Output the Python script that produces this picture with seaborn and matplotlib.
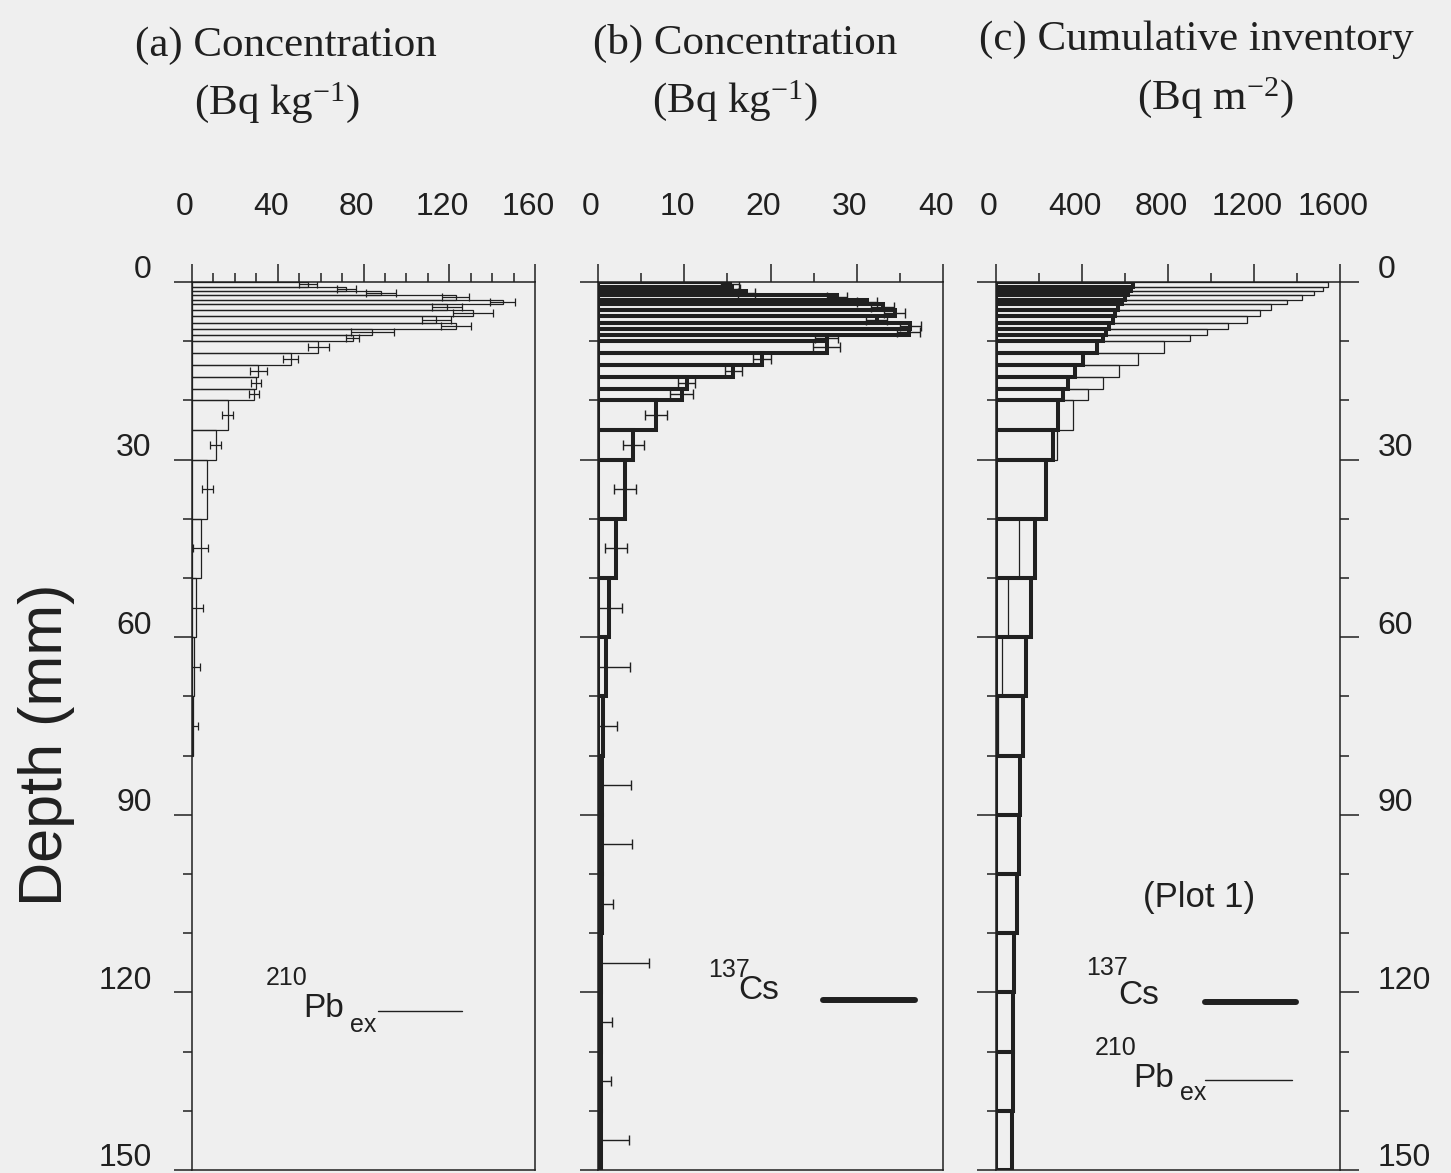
import numpy as np
import matplotlib
matplotlib.use('Agg')
import matplotlib.pyplot as plt
import seaborn as sns
from matplotlib.ticker import MultipleLocator
from matplotlib.lines import Line2D
from matplotlib.transforms import ScaledTranslation

# ---------------- data ----------------
depth_edges = [0, 0.8, 1.5, 2.2, 3.0, 3.8, 4.7, 5.8, 6.9, 7.9, 8.9, 10,
               12, 14, 16, 18, 20, 25, 30, 40, 50, 60, 70, 80, 90, 100,
               110, 120, 130, 140, 150]

# (a) 210Pb_ex concentration (Bq/kg), layers down to 80 mm
pb_conc = [54, 72, 88, 123, 145, 119, 131, 114, 123, 84, 75,
           59, 46, 31, 30, 29, 16.6, 11, 7.2, 4.0, 1.8, 0.8, 0.6]
pb_err = [4.3, 4.3, 7, 6.2, 5.8, 7, 9.3, 6.6, 7, 10, 3.1,
          4.7, 3.5, 3.9, 2.3, 2.3, 2.7, 2.7, 2.6, 3.4, 3.5, 2.8, 2.2]

# (b) 137Cs concentration (Bq/kg)
cs_conc = [15.3, 15.5, 17.2, 27.7, 31.2, 33.0, 34.4, 32.3, 36.2, 36.0, 26.5,
           26.5, 19.0, 15.7, 10.3, 9.7, 6.7, 4.1, 3.1, 2.1, 1.3, 0.9, 0.6,
           0.5, 0.5, 0.5, 0.4, 0.4, 0.4, 0.4]
cs_err = [1.0, 1.0, 1.0, 1.2, 1.2, 1.3, 1.2, 1.2, 1.2, 1.3, 1.3,
          1.6, 1.0, 1.0, 1.0, 1.3, 1.3, 1.2, 1.3, 1.3, 1.5, 2.8, 1.6,
          3.3, 3.4, 1.2, 5.5, 1.2, 1.1, 3.2]

# (c) cumulative inventory (Bq/m2)
cs_cum = [639, 626, 616, 600, 585, 568, 553, 543, 527, 512, 496,
          468, 405, 367, 333, 310, 288, 263, 232, 181, 161, 140, 127,
          112, 108, 96, 85, 81, 78, 73]
pb_cum = [1546, 1519, 1481, 1422, 1354, 1278, 1228, 1166, 1079, 980, 900,
          780, 660, 570, 499, 428, 360, 285, 232, 108, 57, 26, 8]

xlims = [160, 40, 1600]
xmajor = [40, 10, 400]
xminor = [10, 5, 200]

# ---------------- style ----------------
sns.set_theme(style='ticks')
plt.rcParams['font.family'] = ['Liberation Sans', 'DejaVu Sans']
plt.rcParams['mathtext.default'] = 'regular'

BG = '#efefef'
INK = '#202020'
W, H = 1451, 1173
fig = plt.figure(figsize=(W / 100, H / 100), dpi=100, facecolor=BG)


def fx(px):
    return px / W


def fy(py):
    return 1 - py / H


top_px, bot_px = 282, 1170
axes_px = [(192, 535), (598, 943), (996, 1340)]
axs = []
for l, r in axes_px:
    ax = fig.add_axes([fx(l), fy(bot_px), (r - l) / W, (bot_px - top_px) / H])
    ax.set_facecolor(BG)
    axs.append(ax)

edges = np.array(depth_edges, dtype=float)
tops = edges[:-1]
thick = np.diff(edges)
mids = tops + thick / 2


def outline_bars(ax, vals, lw, zorder=2):
    n = len(vals)
    ax.barh(tops[:n], vals, height=thick[:n], left=0, align='edge',
            fill=False, edgecolor=INK, linewidth=lw, zorder=zorder)


def errbars(ax, vals, errs, lw, cap):
    n = len(vals)
    ax.errorbar(vals, mids[:n], xerr=errs, fmt='none', ecolor=INK,
                elinewidth=lw, capsize=cap, capthick=lw, zorder=3)


# (a)
outline_bars(axs[0], pb_conc, 0.9)
errbars(axs[0], pb_conc, pb_err, 0.9, 3.2)
# (b)
outline_bars(axs[1], cs_conc, 2.9)
errbars(axs[1], cs_conc, cs_err, 1.0, 3.5)
# (c)
outline_bars(axs[2], pb_cum, 0.9, zorder=2)
outline_bars(axs[2], cs_cum, 2.9, zorder=3)

for i, ax in enumerate(axs):
    ax.set_xlim(0, xlims[i])
    ax.set_ylim(150, 0)
    ax.xaxis.tick_top()
    ax.xaxis.set_major_locator(MultipleLocator(xmajor[i]))
    ax.xaxis.set_minor_locator(MultipleLocator(xminor[i]))
    ax.yaxis.set_major_locator(MultipleLocator(30))
    ax.yaxis.set_minor_locator(MultipleLocator(10))
    ax.tick_params(axis='both', which='major', length=13, width=1.1,
                   color=INK, labelcolor=INK, labelsize=23, direction='out')
    ax.tick_params(axis='both', which='minor', length=6.5, width=1.1,
                   color=INK, direction='out')
    ax.tick_params(axis='x', which='both', top=True, bottom=False,
                   labeltop=True, labelbottom=False, pad=30)
    ax.tick_params(axis='y', which='both', left=True, right=False,
                   labelleft=(i == 0), labelright=False, pad=16)
    for s in ax.spines.values():
        s.set_color(INK)
        s.set_linewidth(1.1)
    ax.grid(False)

axs[2].tick_params(axis='y', which='both', right=True, labelright=True,
                   pad=13)
axs[2].tick_params(axis='y', which='major', length=14)

# small scan-like offsets of tick labels (labels sit a little left / above)
xoff = ScaledTranslation(-7 / 100, 0, fig.dpi_scale_trans)
yoff = ScaledTranslation(0, 15 / 100, fig.dpi_scale_trans)
for ax in axs:
    for lab in ax.get_xticklabels():
        lab.set_transform(lab.get_transform() + xoff)
    for lab in ax.get_yticklabels():
        lab.set_transform(lab.get_transform() + yoff)

# ---------------- text ----------------
serif = ['Liberation Serif', 'DejaVu Serif']
fig.text(fx(286), fy(56), '(a) Concentration', family=serif, fontsize=31,
         ha='center', va='baseline', color=INK)
fig.text(fx(277), fy(114), '(Bq kg$^{-1}$)', family=serif, fontsize=31,
         ha='center', va='baseline', color=INK)
fig.text(fx(745), fy(54), '(b) Concentration', family=serif, fontsize=31,
         ha='center', va='baseline', color=INK)
fig.text(fx(735), fy(112), '(Bq kg$^{-1}$)', family=serif, fontsize=31,
         ha='center', va='baseline', color=INK)
fig.text(fx(1196), fy(50), '(c) Cumulative inventory', family=serif,
         fontsize=31, ha='center', va='baseline', color=INK)
fig.text(fx(1215), fy(109), '(Bq m$^{-2}$)', family=serif, fontsize=31,
         ha='center', va='baseline', color=INK)

fig.text(fx(47), fy(745), 'Depth (mm)', fontsize=44, rotation=90,
         ha='center', va='center', color=INK)


def label(x_sup, y_sup, sup, x_main, y_main, main, x_sub=None, y_sub=None,
          sub=None):
    fig.text(fx(x_sup), fy(y_sup), sup, fontsize=18, ha='left',
             va='baseline', color=INK)
    fig.text(fx(x_main), fy(y_main), main, fontsize=24, ha='left',
             va='baseline', color=INK)
    if sub is not None:
        fig.text(fx(x_sub), fy(y_sub), sub, fontsize=18, ha='left',
                 va='baseline', color=INK)


def legline(x0, x1, y, lw):
    fig.add_artist(Line2D([fx(x0), fx(x1)], [fy(y), fy(y)], color=INK,
                          linewidth=lw, solid_capstyle='round'))


# panel a legend
label(266, 985, '210', 303, 1017, 'Pb', 350, 1032, 'ex')
legline(378, 462, 1011, 1.0)
# panel b legend
label(708, 977, '137', 738, 999, 'Cs')
legline(823, 915, 1000, 4.3)
# panel c legend
fig.text(fx(1143), fy(907), '(Plot 1)', fontsize=25, ha='left',
         va='baseline', color=INK)
label(1086, 975, '137', 1118, 1004, 'Cs')
legline(1205, 1296, 1002, 4.3)
label(1095, 1055, '210', 1133, 1087, 'Pb', 1180, 1100, 'ex')
legline(1205, 1292, 1080, 1.0)

fig.savefig('out.png', dpi=100, facecolor=BG)
